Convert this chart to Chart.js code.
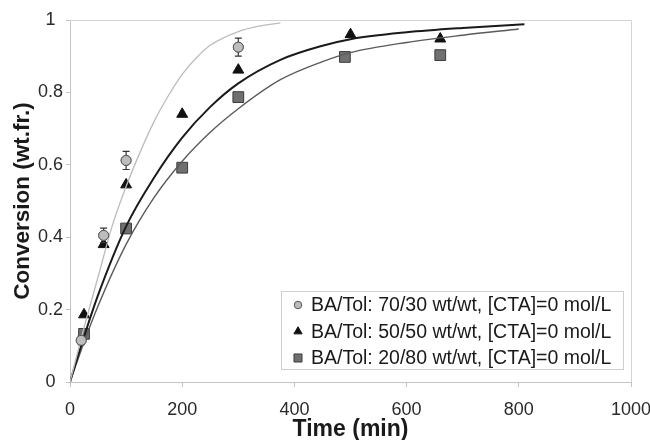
<!DOCTYPE html>
<html>
<head>
<meta charset="utf-8">
<script src="https://cdn.jsdelivr.net/npm/chart.js@4.4.1/dist/chart.umd.min.js"></script>
<style>
  html, body { margin: 0; padding: 0; background: #fff; }
  #wrap { width: 650px; height: 440px; }
</style>
</head>
<body>
<div id="wrap"><canvas id="chart"></canvas></div>
<script>
// measured points
const time70 = [20, 60, 100, 300];
const conv70 = [0.115, 0.405, 0.612, 0.925];
const err70 = [0.012, 0.02, 0.025, 0.025];

const time50 = [25, 60, 100, 200, 300, 500, 660];
const conv50 = [0.186, 0.38, 0.545, 0.74, 0.862, 0.96, 0.948];

const time20 = [25, 100, 200, 300, 490, 660];
const conv20 = [0.133, 0.424, 0.592, 0.787, 0.898, 0.903];

// model curves
const fitTime70 = [0, 25, 50, 75, 100, 125, 150, 175, 200, 225, 250, 300, 340, 375];
const fitConv70 = [0, 0.15, 0.29, 0.43, 0.54, 0.635, 0.72, 0.79, 0.85, 0.895, 0.93, 0.968, 0.984, 0.992];

const fitTime50 = [0, 25, 50, 100, 150, 200, 250, 300, 375, 450, 500, 600, 700, 810];
const fitConv50 = [0, 0.125, 0.24, 0.43, 0.565, 0.675, 0.76, 0.825, 0.89, 0.929, 0.947, 0.966, 0.978, 0.988];

const fitTime20 = [0, 25, 50, 100, 150, 200, 250, 300, 375, 450, 500, 600, 700, 800];
const fitConv20 = [0, 0.11, 0.21, 0.38, 0.51, 0.61, 0.69, 0.755, 0.835, 0.885, 0.91, 0.938, 0.958, 0.975];

const labels = [
  'BA/Tol: 70/30 wt/wt, [CTA]=0 mol/L',
  'BA/Tol: 50/50 wt/wt, [CTA]=0 mol/L',
  'BA/Tol: 20/80 wt/wt, [CTA]=0 mol/L',
];

const xy = (xs, ys) => xs.map((x, i) => ({ x: x, y: ys[i] }));

const fontFamily = '"Liberation Sans", Arial, sans-serif';

const curve = (xs, ys, color, width) => ({
  type: 'line',
  data: xy(xs, ys),
  borderColor: color,
  borderWidth: width,
  pointRadius: 0,
  cubicInterpolationMode: 'monotone',
  fill: false,
});

const markers = [
  { label: labels[0], style: 'circle', radius: 5, fill: '#bdbdbd', stroke: '#555' },
  { label: labels[1], style: 'triangle', radius: 6.3, fill: '#111', stroke: '#111' },
  { label: labels[2], style: 'rect', radius: 7.6, fill: '#707070', stroke: '#3c3c3c' },
];

const points = (xs, ys, m) => ({
  type: 'scatter',
  label: m.label,
  data: xy(xs, ys),
  pointStyle: m.style,
  pointRadius: m.radius,
  pointHoverRadius: m.radius,
  backgroundColor: m.fill,
  borderColor: m.stroke,
  borderWidth: 1,
  showLine: false,
});

const frame = {
  id: 'frame',
  beforeDatasetsDraw(chart) {
    const a = chart.chartArea;
    const ctx = chart.ctx;
    ctx.save();
    ctx.strokeStyle = '#d4d4d4';
    ctx.lineWidth = 1;
    ctx.beginPath();
    ctx.moveTo(a.left, a.top + 0.5);
    ctx.lineTo(a.right + 0.5, a.top + 0.5);
    ctx.lineTo(a.right + 0.5, a.bottom);
    ctx.stroke();
    ctx.restore();
  },
};

const errorBars = {
  id: 'errorBars',
  afterDatasetsDraw(chart) {
    const ctx = chart.ctx;
    const xs = chart.scales.x;
    const ys = chart.scales.y;
    ctx.save();
    ctx.strokeStyle = '#333';
    ctx.lineWidth = 1.2;
    time70.forEach((t, i) => {
      const px = xs.getPixelForValue(t);
      const top = ys.getPixelForValue(conv70[i] + err70[i]);
      const bot = ys.getPixelForValue(conv70[i] - err70[i]);
      ctx.beginPath();
      ctx.moveTo(px, top);
      ctx.lineTo(px, bot);
      ctx.moveTo(px - 3.5, top);
      ctx.lineTo(px + 3.5, top);
      ctx.moveTo(px - 3.5, bot);
      ctx.lineTo(px + 3.5, bot);
      ctx.stroke();
    });
    // circles back on top of the bars
    chart.getDatasetMeta(3).data.forEach((el) => el.draw(ctx, chart.chartArea));
    ctx.restore();
  },
};

const legendBox = {
  id: 'legendBox',
  afterDraw(chart) {
    const ctx = chart.ctx;
    const left = 281, top = 291, right = 623, bottom = 369;
    ctx.save();
    ctx.fillStyle = '#fff';
    ctx.fillRect(left, top, right - left, bottom - top);
    ctx.strokeStyle = '#cfcfcf';
    ctx.lineWidth = 1;
    ctx.strokeRect(left + 0.5, top + 0.5, right - left, bottom - top);
    ctx.font = '19.5px ' + fontFamily;
    ctx.textBaseline = 'middle';
    markers.forEach((m, i) => {
      const y = 305 + i * 26.5;
      ctx.fillStyle = m.fill;
      ctx.strokeStyle = m.stroke;
      ctx.lineWidth = 1;
      Chart.helpers.drawPoint(ctx, { pointStyle: m.style, radius: m.radius * 0.75, borderWidth: 1 }, 298, y);
      ctx.fillStyle = '#1a1a1a';
      ctx.fillText(m.label, 311, y + 1);
    });
    ctx.restore();
  },
};

new Chart(document.getElementById('chart'), {
  type: 'scatter',
  data: {
    datasets: [
      curve(fitTime70, fitConv70, '#bcbcbc', 1.3),
      curve(fitTime50, fitConv50, '#1a1a1a', 2),
      curve(fitTime20, fitConv20, '#5a5a5a', 1.4),
      points(time70, conv70, markers[0]),
      points(time50, conv50, markers[1]),
      points(time20, conv20, markers[2]),
    ],
  },
  options: {
    responsive: true,
    maintainAspectRatio: false,
    animation: false,
    layout: { padding: { left: 6, top: 20, right: 0, bottom: 0 } },
    plugins: {
      legend: { display: false },
      tooltip: { enabled: false },
    },
    scales: {
      x: {
        type: 'linear',
        min: 0,
        max: 1000,
        afterFit: (scale) => {
          scale.paddingRight = 19;
          scale.paddingLeft = 0;
        },
        ticks: {
          stepSize: 200,
          color: '#2a2a2a',
          font: { size: 18, family: fontFamily, lineHeight: 1 },
          padding: 14,
          callback: (v) => String(v),
        },
        grid: { drawOnChartArea: false, color: '#c4c4c4', tickLength: 5 },
        border: { color: '#c4c4c4' },
        title: {
          display: true,
          text: 'Time (min)',
          color: '#1a1a1a',
          font: { size: 23, weight: 'bold', family: fontFamily, lineHeight: 1 },
          padding: { top: -15, bottom: -1 },
        },
      },
      y: {
        min: 0,
        max: 1,
        afterFit: (scale) => {
          scale.width = 64;
        },
        ticks: {
          stepSize: 0.2,
          color: '#2a2a2a',
          font: { size: 18, family: fontFamily },
          padding: 3,
          crossAlign: 'center',
          callback: (v) => String(Math.round(v * 10) / 10),
        },
        grid: { drawOnChartArea: false, color: '#c4c4c4', tickLength: 4 },
        border: { color: '#c4c4c4' },
        title: {
          display: true,
          text: 'Conversion (wt.fr.)',
          color: '#1a1a1a',
          font: { size: 22.5, weight: 'bold', family: fontFamily, lineHeight: 1.1 },
          padding: { top: 4.5, bottom: 1 },
        },
      },
    },
  },
  plugins: [frame, errorBars, legendBox],
});
</script>
</body>
</html>
